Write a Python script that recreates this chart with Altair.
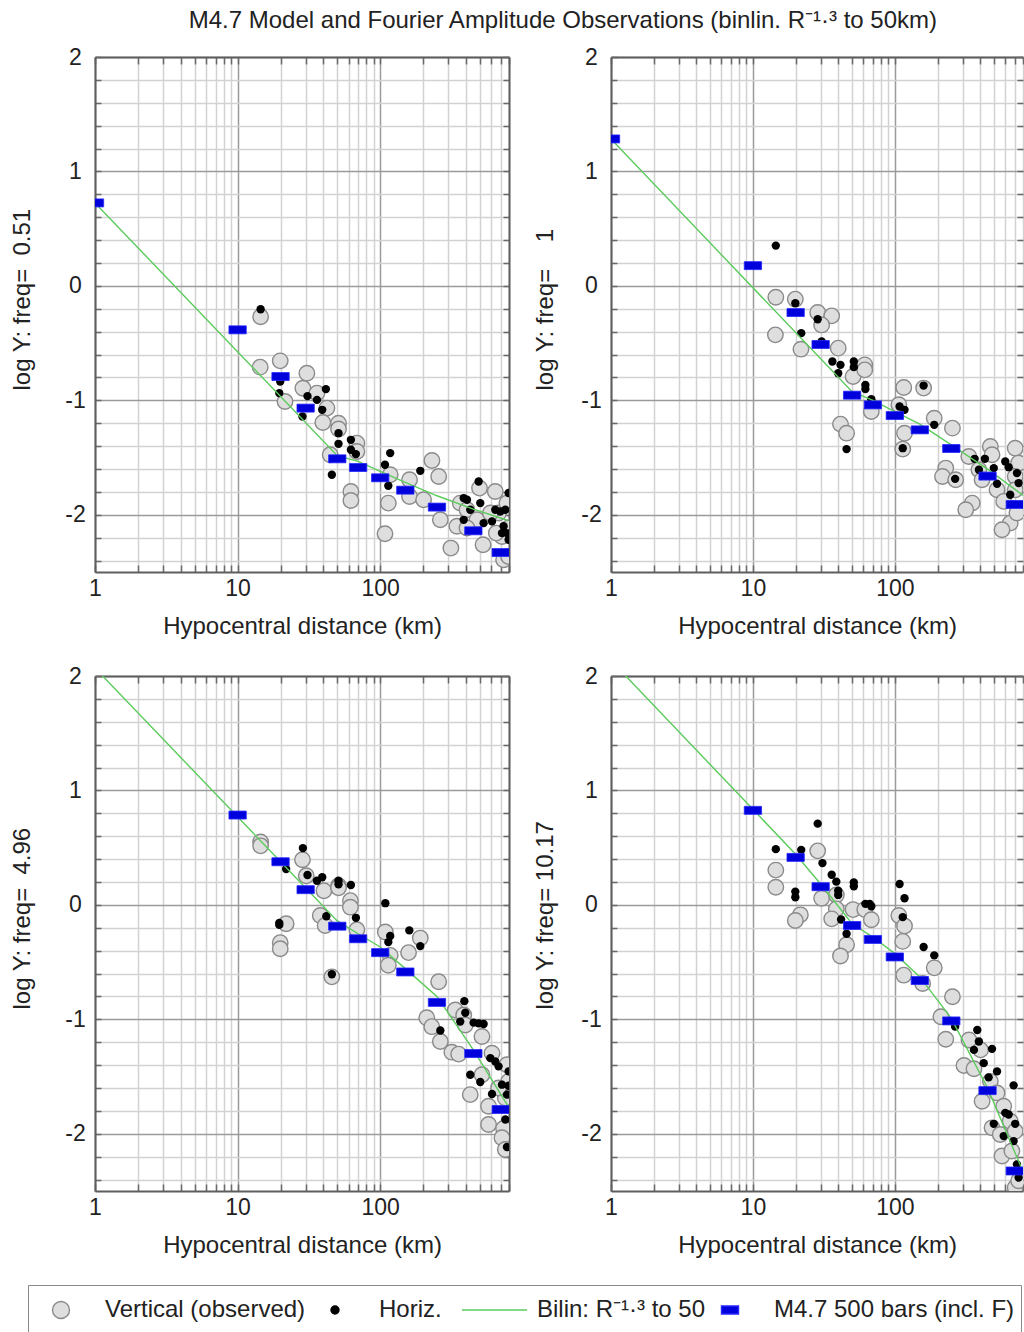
import json
import altair as alt
import pandas as pd

FONT = "Liberation Sans"
TXT = "#222222"

TITLE = "M4.7 Model and Fourier Amplitude Observations (binlin. R\u207b\u00b9\u00b7\u00b3 to 50km)"
X_TITLE = "Hypocentral distance (km)"
Y_TITLES = [
    "log Y: freq=\u00a0\u00a00.51",
    "log Y: freq=\u00a0\u00a0\u00a0\u00a01",
    "log Y: freq=\u00a0\u00a04.96",
    "log Y: freq=\u00a010.17",
]

X_TICKS = [1, 2, 3, 4, 5, 6, 7, 8, 9, 10, 20, 30, 40, 50, 60, 70, 80, 90,
           100, 200, 300, 400, 500, 600, 700, 800]
Y_TICKS = [-2.4, -2.2, -2.0, -1.8, -1.6, -1.4, -1.2, -1.0, -0.8, -0.6, -0.4, -0.2,
           0.0, 0.2, 0.4, 0.6, 0.8, 1.0, 1.2, 1.4, 1.6, 1.8, 2.0]

# ---------------- panel 1 : freq 0.51 ----------------
P1_VERT_R = [14.5, 14.4, 19.9, 21.5, 30.6, 28.7, 36, 42.3, 39.6, 51, 51, 68.6, 68.6, 44.6,
             62.3, 62.3, 117.5, 114, 108, 160.6, 160.6, 201.5, 230.5, 257, 264, 313, 345,
             364, 406, 477, 497, 526, 641, 676, 714, 733, 795, 774, 795, 592, 652, 406]
P1_VERT_Y = [-0.27, -0.71, -0.655, -1.01, -0.763, -0.894, -0.937, -1.068, -1.194, -1.2, -1.25,
             -1.374, -1.447, -1.476, -1.796, -1.875, -1.65, -1.898, -2.166, -1.694, -1.84,
             -1.869, -1.526, -1.665, -2.044, -2.291, -2.1, -1.898, -1.956, -2.044, -1.767,
             -2.262, -1.796, -1.985, -2.19, -2.393, -2.364, -1.898, -2.116, -1.985, -2.16, -2.116]
P1_HOR_R = [14.5, 19.9, 19.6, 28.5, 30.9, 36, 41.6, 39.2, 51, 51, 62.3, 62.3, 67.5, 45.8,
            117.5, 108, 114, 191, 385, 406, 490, 428, 503, 385, 531, 608, 641, 695, 754,
            795, 733, 774, 795, 714]
P1_HOR_Y = [-0.204, -0.835, -0.937, -1.141, -0.963, -0.996, -0.902, -1.083, -1.287, -1.38,
            -1.345, -1.432, -1.47, -1.65, -1.461, -1.563, -1.747, -1.616, -1.854, -1.869,
            -1.709, -1.956, -1.898, -2.044, -2.073, -2.058, -1.956, -1.971, -1.956, -1.81,
            -2.1, -2.16, -2.218, -2.16]
P1_MOD_R = [1, 10, 20, 30, 50, 70, 100, 150, 250, 450, 700]
P1_MOD_Y = [0.725, -0.384, -0.792, -1.068, -1.511, -1.587, -1.677, -1.785, -1.933, -2.14, -2.33]
P1_LINE_R = [1, 50, 70, 100, 150, 250, 450, 790]
P1_LINE_Y = [0.725, -1.484, -1.534, -1.621, -1.717, -1.834, -1.95, -2.05]

# ---------------- panel 2 : freq 1 ----------------
P2_VERT_R = [14.5, 19.9, 14.4, 21.8, 28.6, 35.9, 30.5, 39.9, 50.8, 61.4, 61.4, 68.3, 115.6,
             159.5, 106.7, 41.4, 45.7, 117, 113.7, 189.5, 254.6, 228.5, 216.7, 268.5, 351,
             316, 332, 471, 484, 391, 412, 525, 585, 650, 569, 705, 745, 705, 725, 705]
P2_VERT_Y = [-0.099, -0.116, -0.428, -0.553, -0.233, -0.262, -0.341, -0.544, -0.792, -0.69,
             -0.734, -1.098, -0.888, -0.893, -1.039, -1.208, -1.287, -1.287, -1.426, -1.156,
             -1.243, -1.592, -1.665, -1.694, -1.898, -1.956, -1.491, -1.403, -1.476, -1.607,
             -1.694, -1.782, -1.883, -2.073, -2.131, -1.418, -1.548, -1.665, -1.985, -1.782]
P2_HOR_R = [14.5, 19.9, 28.6, 21.9, 30.5, 36.3, 41.4, 39.9, 51.4, 51.4, 62, 62, 68.3, 108,
            117, 159.5, 45.7, 113.7, 189.5, 266, 365, 431, 391, 498, 525, 600, 634, 650,
            725, 745]
P2_HOR_Y = [0.352, -0.151, -0.291, -0.413, -0.486, -0.661, -0.69, -0.763, -0.661, -0.71,
            -0.865, -0.902, -0.99, -1.054, -1.083, -0.871, -1.426, -1.418, -1.214, -1.686,
            -1.511, -1.511, -1.607, -1.592, -1.729, -1.534, -1.584, -1.825, -1.636, -1.723]
P2_MOD_R = [1, 10, 20, 30, 50, 70, 100, 150, 250, 450, 700]
P2_MOD_Y = [1.284, 0.177, -0.233, -0.512, -0.955, -1.04, -1.133, -1.258, -1.421, -1.662, -1.91]
P2_LINE_R = [1, 50, 70, 100, 150, 250, 450, 800]
P2_LINE_Y = [1.284, -0.925, -1.0, -1.098, -1.208, -1.389, -1.601, -1.83]

# ---------------- panel 3 : freq 4.96 ----------------
P3_VERT_R = [14.5, 14.5, 28.5, 30.3, 40.3, 51, 51, 61.8, 61.8, 38, 41.1, 68.6, 21.9, 19.9,
             19.9, 45.8, 108.6, 117.5, 114, 191, 158, 257, 212, 230, 264, 318, 355, 336,
             385, 395, 517, 608, 517, 428, 575, 795, 754, 575, 733, 714, 754, 774, 676]
P3_VERT_Y = [0.55, 0.516, 0.394, 0.255, 0.124, 0.168, 0.15, 0.037, -0.02, -0.093, -0.18,
             -0.217, -0.165, -0.33, -0.383, -0.629, -0.237, -0.441, -0.528, -0.29, -0.417,
             -0.672, -0.986, -1.064, -1.194, -1.287, -1.304, -0.919, -0.962, -1.05, -1.15,
             -1.296, -1.484, -1.658, -1.759, -1.542, -1.687, -1.919, -1.954, -2.035, -2.137,
             -1.397, -1.6]
P3_HOR_R = [28.7, 21.9, 30.9, 36, 39.2, 51, 51, 62.3, 19.6, 19.6, 41.9, 67.5, 108.6, 45.8,
            117.5, 114, 160, 191, 389, 395, 364, 452, 490, 531, 264, 592, 641, 676, 795,
            428, 503, 714, 795, 608, 774, 754, 774]
P3_HOR_Y = [0.496, 0.313, 0.261, 0.211, 0.241, 0.211, 0.18, 0.174, -0.157, -0.175, -0.099,
            -0.113, 0.015, -0.606, -0.272, -0.325, -0.223, -0.36, -0.841, -0.942, -1.02,
            -1.029, -1.035, -1.041, -1.098, -1.339, -1.368, -1.411, -1.455, -1.484, -1.548,
            -1.571, -1.58, -1.652, -1.658, -1.875, -2.116]
P3_MOD_R = [10, 20, 30, 50, 70, 100, 150, 250, 450, 700]
P3_MOD_Y = [0.785, 0.377, 0.133, -0.186, -0.296, -0.417, -0.586, -0.852, -1.299, -1.788]
P3_LINE_R = [1, 50, 70, 100, 150, 250, 450, 790]
P3_LINE_Y = [2.07, -0.14, -0.252, -0.368, -0.557, -0.80, -1.267, -1.76]

# ---------------- panel 4 : freq 10.17 ----------------
P4_VERT_R = [14.5, 14.5, 21.6, 19.9, 28.6, 30.5, 38.7, 38.7, 35.9, 50.8, 61.4, 68.3, 45.7,
             41.4, 106.7, 117, 113.7, 115.6, 189.5, 157, 254.6, 211, 228.5, 333, 307, 361,
             402, 471, 412, 525, 585, 484, 553, 650, 569, 668, 705, 745, 705]
P4_VERT_Y = [0.304, 0.154, -0.087, -0.136, 0.472, 0.058, 0.087, -0.035, -0.122, -0.041,
             -0.041, -0.13, -0.348, -0.446, -0.093, -0.185, -0.319, -0.614, -0.55, -0.687,
             -0.803, -0.977, -1.174, -1.18, -1.403, -1.432, -1.267, -1.542, -1.716, -1.643,
             -1.759, -1.948, -2.006, -1.89, -2.194, -2.15, -2.47, -2.41, -1.977]
P4_HOR_R = [14.5, 21.9, 28.6, 30.9, 19.9, 19.9, 35.9, 38.7, 39.9, 39.9, 51.4, 51.4, 62, 66.5,
            68.3, 108, 117, 113.7, 41.8, 45.7, 159.5, 189.5, 266, 381, 391, 484, 361, 423,
            525, 458, 687, 600, 634, 705, 498, 585, 687, 725, 745]
P4_HOR_Y = [0.487, 0.481, 0.71, 0.365, 0.116, 0.067, 0.263, 0.203, 0.124, 0.087, 0.197,
            0.163, 0.009, 0.009, -0.012, 0.183, 0.058, -0.107, -0.128, -0.252, -0.368, -0.441,
            -1.064, -1.093, -1.194, -1.258, -1.267, -1.383, -1.455, -1.507, -1.577, -1.817,
            -1.832, -1.913, -1.913, -2.02, -2.064, -2.267, -2.383]
P4_MOD_R = [10, 20, 30, 50, 70, 100, 150, 250, 450, 700]
P4_MOD_Y = [0.826, 0.415, 0.159, -0.18, -0.302, -0.455, -0.661, -1.014, -1.623, -2.325]
P4_LINE_R = [1, 10, 20, 30, 50, 70, 100, 150, 250, 450, 800]
P4_LINE_Y = [2.135, 0.835, 0.443, 0.183, -0.165, -0.281, -0.426, -0.629, -0.991, -1.6, -2.33]

# ---------------- legend ----------------
LEG_LABELS = ["Vertical (observed)", "Horiz.",
              "Bilin: R\u207b\u00b9\u00b7\u00b3 to 50", "M4.7 500 bars (incl. F)"]

# styles
V_FILL, V_STROKE = "#dedede", "#8a8a8a"
GREEN = "#5ccb5c"
BLUE, BLUE_EDGE = "#0000dc", "#2626ff"
MAJOR, MINOR, TICK, FRAME = "#9a9a9a", "#d2d2d2", "#6a6a6a", "#5e5e5e"
RECT_PATH = "M-1,-0.46H1V0.46H-1Z"

LEG_FILL = [V_FILL, "#000000", "transparent", BLUE]
LEG_STROKE = [V_STROKE, "#000000", GREEN, BLUE_EDGE]
LEG_SHAPE = [
    "M0.327,0A0.327,0.327,0,1,1,-0.327,0A0.327,0.327,0,1,1,0.327,0Z",
    "M0.154,0A0.154,0.154,0,1,1,-0.154,0A0.154,0.154,0,1,1,0.154,0Z",
    "M-1.25,0L1.25,0",
    "M-0.327,-0.154H0.327V0.154H-0.327Z",
]
LEG_ARR = json.dumps(LEG_LABELS, ensure_ascii=False)


def df(r, y):
    return pd.DataFrame({"R": r, "Y": y})


XS = alt.Scale(type="log", domain=[1, 800], nice=False)
YS = alt.Scale(domain=[-2.5, 2.0], nice=False, zero=False)


def main_axes(ytitle, title_x):
    xa = alt.Axis(
        values=X_TICKS,
        labelExpr="indexof([1,10,100], datum.value) >= 0 ? '' + datum.value : ''",
        labelFlush=False, labelOverlap=False, labelBound=False,
        labelFontSize=23, labelPadding=12,
        grid=True, gridWidth=1.5,
        gridColor={"condition": {"test": "indexof([1,10,100], datum.value) >= 0", "value": MAJOR},
                   "value": MINOR},
        ticks=True, tickSize=alt.ExprRef("-7"), tickColor=TICK, tickWidth=1.5,
        domain=True, domainColor=FRAME, domainWidth=2,
        title=X_TITLE, titleFontSize=24, titleFontWeight="normal",
        titleY=54, titleBaseline="middle",
    )
    ya = alt.Axis(
        values=Y_TICKS,
        labelExpr="abs(datum.value - round(datum.value)) < 0.001 ? toString(round(datum.value)) : ''",
        labelFlush=False, labelOverlap=False, labelBound=False,
        labelFontSize=23, labelPadding=26, labelAlign="center",
        grid=True, gridWidth=1.5,
        gridColor={"condition": {"test": "abs(datum.value - round(datum.value)) < 0.001", "value": MAJOR},
                   "value": MINOR},
        ticks=True, tickSize=alt.ExprRef("-6"), tickColor=TICK, tickWidth=1.5,
        domain=True, domainColor=FRAME, domainWidth=2,
        title=ytitle, titleFontSize=24, titleFontWeight="normal",
        titleX=title_x, titleY=333, titleAlign="left", titleAngle=270, titleBaseline="middle",
    )
    return xa, ya


def side_axes(right_domain):
    xa = alt.Axis(orient="top", values=X_TICKS, labels=False, title=None, grid=False,
                  domain=True, domainColor=FRAME, domainWidth=2,
                  ticks=True, tickSize=alt.ExprRef("-7"), tickColor=TICK, tickWidth=1.5)
    ya = alt.Axis(orient="right", values=Y_TICKS, labels=False, title=None, grid=False,
                  domain=right_domain, domainColor=FRAME, domainWidth=2,
                  ticks=True, tickSize=alt.ExprRef("-6"), tickColor=TICK, tickWidth=1.5)
    return xa, ya


def panel(vr, vy, hr, hy, mr, my, lr, ly, ytitle, title_x, width, right_domain,
          with_legend=False):
    xa, ya = main_axes(ytitle, title_x)
    xa2, ya2 = side_axes(right_domain)
    vert = alt.Chart(df(vr, vy)).mark_circle(
        size=240, fill=V_FILL, stroke=V_STROKE, strokeWidth=1.4, opacity=1, clip=True
    ).encode(x=alt.X("R:Q", scale=XS, axis=xa), y=alt.Y("Y:Q", scale=YS, axis=ya))
    hor = alt.Chart(df(hr, hy)).mark_circle(
        size=70, color="#000000", opacity=1, clip=True
    ).encode(x=alt.X("R:Q", scale=XS, axis=None), y=alt.Y("Y:Q", scale=YS, axis=None))
    line = alt.Chart(df(lr, ly)).mark_line(
        color=GREEN, strokeWidth=1.4, clip=True
    ).encode(x=alt.X("R:Q", scale=XS, axis=xa2), y=alt.Y("Y:Q", scale=YS, axis=ya2))
    mod = alt.Chart(df(mr, my)).mark_point(
        shape=RECT_PATH, size=300, filled=True, fill=BLUE, stroke=BLUE_EDGE,
        strokeWidth=0.8, opacity=1, clip=True
    ).encode(x=alt.X("R:Q", scale=XS, axis=None), y=alt.Y("Y:Q", scale=YS, axis=None))
    layers = [vert, hor, line, mod]
    if with_legend:
        leg_df = pd.DataFrame({"series": LEG_LABELS, "R": [1.0] * 4, "Y": [0.0] * 4})
        idx = f"indexof({LEG_ARR}, datum.value)"
        stroke_expr = f"{json.dumps(LEG_STROKE)}[{idx}]"
        shape_expr = f"{json.dumps(LEG_SHAPE)}[{idx}]"
        leg = alt.Chart(leg_df).transform_filter("false").mark_point(filled=True, opacity=1).encode(
            x=alt.X("R:Q", scale=XS, axis=None),
            y=alt.Y("Y:Q", scale=YS, axis=None),
            fill=alt.Fill(
                "series:N",
                scale=alt.Scale(domain=LEG_LABELS, range=LEG_FILL),
                legend=alt.Legend(
                    title=None, orient="none", legendX=-67, legendY=1228,
                    direction="horizontal", padding=6, strokeColor="#8a8a8a",
                    symbolSize=2704, symbolStrokeWidth=1.4, symbolOpacity=1,
                    symbolStrokeColor=alt.ExprRef(stroke_expr),
                    symbolType=alt.ExprRef(shape_expr),
                    symbolOffset=alt.ExprRef(f"{idx} == 2 ? 23.5 : ({idx} == 3 ? -5 : 0)"),
                    labelOffset=alt.ExprRef(f"{idx} == 2 ? 15.5 : 17"),
                    labelFont=FONT, labelFontSize=24, labelColor=TXT,
                    labelLimit=600, columnPadding=2, clipHeight=38,
                ),
            ),
        )
        layers.append(leg)
    return alt.layer(*layers).resolve_axis(x="independent", y="independent").properties(
        width=width, height=515
    )


p1 = panel(P1_VERT_R, P1_VERT_Y, P1_HOR_R, P1_HOR_Y, P1_MOD_R, P1_MOD_Y, P1_LINE_R, P1_LINE_Y,
           Y_TITLES[0], -73, 414, True)
p2 = panel(P2_VERT_R, P2_VERT_Y, P2_HOR_R, P2_HOR_Y, P2_MOD_R, P2_MOD_Y, P2_LINE_R, P2_LINE_Y,
           Y_TITLES[1], -66, 412, False)
p3 = panel(P3_VERT_R, P3_VERT_Y, P3_HOR_R, P3_HOR_Y, P3_MOD_R, P3_MOD_Y, P3_LINE_R, P3_LINE_Y,
           Y_TITLES[2], -73, 414, True, with_legend=True)
p4 = panel(P4_VERT_R, P4_VERT_Y, P4_HOR_R, P4_HOR_Y, P4_MOD_R, P4_MOD_Y, P4_LINE_R, P4_LINE_Y,
           Y_TITLES[3], -66, 412, False)

chart = alt.concat(
    p1, p2, p3, p4, columns=2, spacing={"row": 104, "column": 102}, bounds="flush"
).properties(
    title=alt.TitleParams(text=TITLE, fontSize=24, font=FONT, fontWeight="normal", color=TXT,
                          anchor="middle", dx=46, offset=13),
    padding={"left": 10, "top": 9, "right": 0, "bottom": 0},
    background="white",
).configure_view(
    strokeWidth=0
).configure_axis(
    labelFont=FONT, titleFont=FONT, labelColor=TXT, titleColor=TXT
)

chart.save("out.html", embed_options={"renderer": "svg", "actions": False})
